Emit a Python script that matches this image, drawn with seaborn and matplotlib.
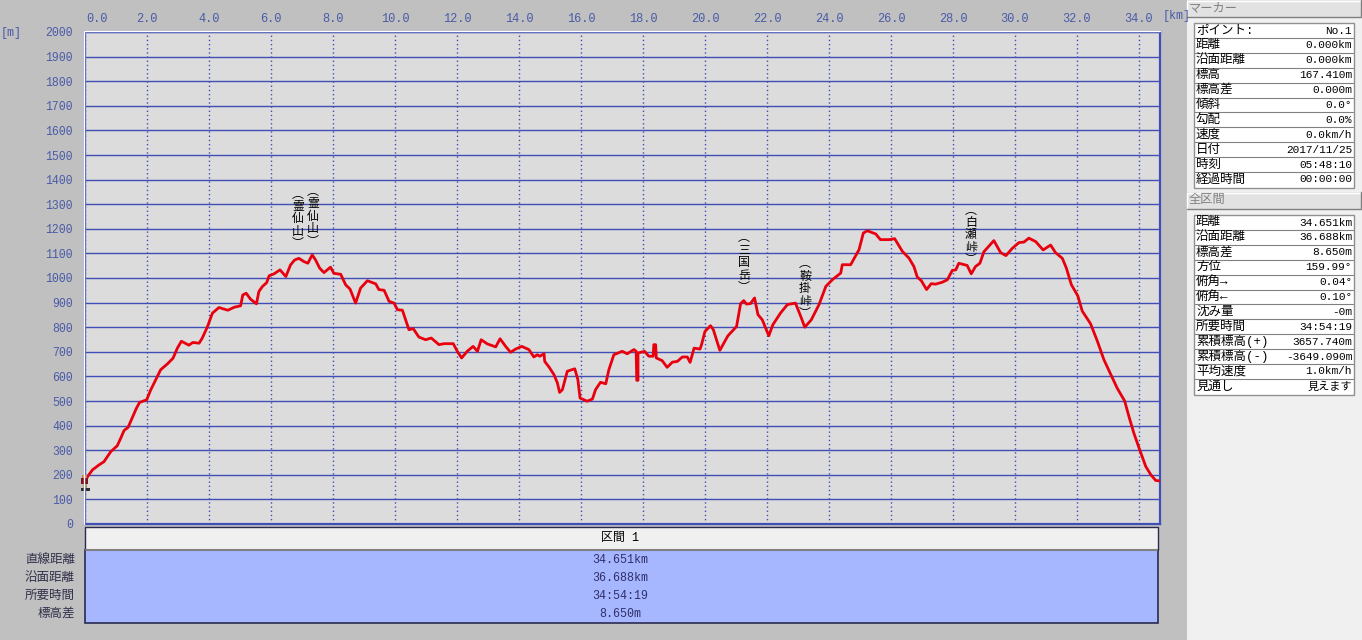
import matplotlib
matplotlib.use("Agg")
import matplotlib.pyplot as plt
from matplotlib.patches import Rectangle
from matplotlib.transforms import ScaledTranslation
import pandas as pd
import seaborn as sns

W, H = 1362, 640

# route profile
dist_km = [0.0, 0.08, 0.24, 0.45, 0.61, 0.83, 1.04, 1.15, 1.26, 1.39, 1.53, 1.66, 1.76, 1.99,
           2.12, 2.28, 2.44, 2.66, 2.84, 2.98, 3.11, 3.35, 3.48, 3.68, 3.78, 3.95, 4.11, 4.32,
           4.61, 4.81, 5.02, 5.09, 5.20, 5.34, 5.53, 5.61, 5.72, 5.86, 5.94, 6.10, 6.29, 6.48,
           6.63, 6.76, 6.90, 7.06, 7.19, 7.33, 7.44, 7.57, 7.71, 7.92, 8.03, 8.25, 8.41, 8.55,
           8.73, 8.89, 9.11, 9.38, 9.48, 9.65, 9.81, 9.97, 10.08, 10.24, 10.34, 10.45, 10.59,
           10.77, 10.99, 11.17, 11.42, 11.58, 11.88, 12.01, 12.15, 12.33, 12.52, 12.66, 12.78,
           12.98, 13.25, 13.39, 13.57, 13.73, 13.89, 14.09, 14.32, 14.48, 14.59, 14.67, 14.81,
           14.83, 14.97, 15.13, 15.24, 15.31, 15.40, 15.56, 15.80, 15.90, 15.97, 16.20, 16.37,
           16.47, 16.63, 16.80, 16.90, 17.06, 17.33, 17.49, 17.71, 17.78, 17.80, 17.84, 17.84,
           18.05, 18.19, 18.33, 18.35, 18.41, 18.43, 18.62, 18.78, 18.95, 19.11, 19.27, 19.43,
           19.52, 19.65, 19.84, 19.89, 20.00, 20.18, 20.27, 20.48, 20.74, 21.02, 21.15, 21.25,
           21.34, 21.47, 21.60, 21.71, 21.85, 22.06, 22.19, 22.44, 22.66, 22.92, 23.09, 23.22,
           23.43, 23.68, 23.90, 24.11, 24.38, 24.43, 24.70, 24.97, 25.11, 25.24, 25.51, 25.66,
           25.95, 26.12, 26.37, 26.58, 26.74, 26.85, 26.98, 27.15, 27.30, 27.44, 27.66, 27.82,
           27.98, 28.09, 28.19, 28.46, 28.59, 28.73, 28.87, 29.00, 29.32, 29.54, 29.71, 29.91,
           30.13, 30.29, 30.45, 30.67, 30.91, 31.15, 31.31, 31.53, 31.66, 31.82, 32.03, 32.17,
           32.44, 32.66, 32.87, 33.06, 33.30, 33.54, 33.68, 33.84, 34.03, 34.22, 34.38, 34.54,
           34.68]
elev_m = [170, 192, 220, 240, 253, 294, 318, 348, 380, 393, 434, 471, 494, 505,
          545, 586, 627, 651, 674, 715, 743, 727, 738, 735, 755, 802, 857, 880,
          869, 881, 887, 931, 938, 914, 895, 945, 965, 981, 1009, 1017, 1033, 1006,
          1053, 1073, 1080, 1067, 1060, 1094, 1073, 1040, 1022, 1044, 1019, 1015, 972, 955,
          898, 959, 989, 976, 953, 950, 905, 898, 871, 869, 831, 790, 794,
          760, 749, 756, 729, 733, 733, 702, 675, 702, 722, 702, 749,
          732, 720, 753, 722, 698, 711, 722, 709, 679, 688, 682, 692,
          661, 638, 607, 573, 535, 546, 621, 631, 587, 512, 499, 508,
          546, 576, 570, 627, 688, 702, 692, 709, 702, 584, 584, 695,
          702, 682, 682, 729, 729, 675, 664, 637, 658, 661, 679, 679,
          657, 715, 711, 729, 783, 806, 790, 706, 765, 803, 896, 908,
          894, 896, 919, 851, 830, 765, 810, 858, 892, 898, 844, 800,
          830, 892, 966, 993, 1020, 1054, 1054, 1115, 1183, 1192, 1179, 1156,
          1156, 1160, 1108, 1081, 1047, 1004, 989, 953, 977, 975, 983, 993,
          1031, 1033, 1060, 1051, 1017, 1047, 1060, 1107, 1152, 1103, 1091, 1120,
          1144, 1146, 1162, 1148, 1114, 1134, 1103, 1080, 1040, 973, 927, 866,
          814, 743, 668, 617, 552, 500, 436, 368, 300, 234, 201, 177,
          175]

x_ticks = [0.0, 2.0, 4.0, 6.0, 8.0, 10.0, 12.0, 14.0, 16.0, 18.0, 20.0, 22.0, 24.0, 26.0,
           28.0, 30.0, 32.0, 34.0]
y_ticks = list(range(0, 2100, 100))

peak_names = ["霊仙山", "霊仙山", "三国岳", "鞍掛峠", "白瀬峠"]
peak_km = [6.87, 7.35, 21.26, 23.23, 28.58]
peak_m = [1240, 1252, 1063, 957, 1175]

section_labels = ["直線距離", "沿面距離", "所要時間", "標高差"]
section_values = ["34.651km", "36.688km", "34:54:19", "8.650m"]

marker_labels = ["ポイント:", "距離", "沿面距離", "標高", "標高差", "傾斜", "勾配", "速度", "日付", "時刻", "経過時間"]
marker_values = ["No.1", "0.000km", "0.000km", "167.410m", "0.000m", "0.0°", "0.0%", "0.0km/h",
                 "2017/11/25", "05:48:10", "00:00:00"]
total_labels = ["距離", "沿面距離", "標高差", "方位", "俯角→", "俯角←", "沈み量", "所要時間",
                "累積標高(+)", "累積標高(-)", "平均速度", "見通し"]
total_values = ["34.651km", "36.688km", "8.650m", "159.99°", "0.04°", "0.10°", "-0m", "34:54:19",
                "3657.740m", "-3649.090m", "1.0km/h", "見えます"]

BLUE = "#3f4fb5"
LABEL_BLUE = "#4a5aa8"
FONT = ["Liberation Mono", "Noto Sans CJK JP", "DejaVu Sans"]
JP = ["Noto Sans CJK JP", "DejaVu Sans"]

sns.set_theme(style="white")
plt.rcParams["font.family"] = FONT

fig = plt.figure(figsize=(W / 100, H / 100), dpi=100, facecolor="#c0c0c0")

# main profile axes
ax = fig.add_axes([85 / W, 1 - 524 / H, (1160 - 85) / W, (524 - 32) / H], facecolor="#dcdcdc")
df = pd.DataFrame({"km": dist_km, "m": elev_m})
sns.lineplot(data=df, x="km", y="m", sort=False, estimator=None, color="#e8000f", linewidth=2.0,
             ax=ax, zorder=5)
ax.set_xlim(0, 34.68)
ax.set_ylim(0, 2000)
ax.set_xticks(x_ticks)
ax.set_yticks(y_ticks)
ax.set_xlabel("")
ax.set_ylabel("")
ax.set_xticklabels([f"{v:.1f}" for v in x_ticks])
ax.xaxis.tick_top()
ax.tick_params(axis="x", length=0, pad=5.4, labelsize=8.6, labelcolor=LABEL_BLUE)
ax.tick_params(axis="y", length=0, pad=8.8, labelsize=8.3, labelcolor=LABEL_BLUE)
ax.grid(axis="y", color=BLUE, linewidth=1.0)
ax.grid(axis="x", color=BLUE, linewidth=1.0, linestyle=(0, (1, 2)))
ax.set_axisbelow(True)
for s in ax.spines.values():
    s.set_color(BLUE)
    s.set_linewidth(1.6)

# first label sits to the right of its gridline in the original
first = ax.get_xticklabels()[0]
first.set_transform(first.get_transform() + ScaledTranslation(12 / 100, 0, fig.dpi_scale_trans))

for name, km, m in zip(peak_names, peak_km, peak_m):
    ax.text(km, m, "︵\n" + "\n".join(name) + "\n︶", family=JP, fontsize=8.6, color="black",
            ha="center", va="center", linespacing=0.95, zorder=6)

# overlay in pixel coords for the window furniture
ov = fig.add_axes([0, 0, 1, 1], facecolor="none", zorder=10)
ov.set_xlim(0, W)
ov.set_ylim(H, 0)
ov.axis("off")


def box(x0, y0, x1, y1, fc, ec="none", lw=0.0):
    ov.add_patch(Rectangle((x0, y0), x1 - x0, y1 - y0, facecolor=fc, edgecolor=ec, linewidth=lw))


def label(x, y, s, ha="left", color="black", size=8.6):
    ov.text(x, y, s, ha=ha, va="center", color=color, fontsize=size, family=FONT)


label(1, 33, "[m]", color=LABEL_BLUE, size=8.4)
label(1163, 16, "[km]", color=LABEL_BLUE, size=8.4)

# white edge of the plot frame
ov.plot([83.5, 83.5, 1160], [524, 30.5, 30.5], color="white", lw=1.0)

# walker icon at start of the track
box(82, 475, 87, 478, "#c08060")
box(81, 478, 88, 484, "#7a1420")
box(83, 484, 87, 488, "#a08a60")
box(81, 488, 84, 491, "#303030")
box(86, 488, 90, 491, "#303030")

# section table below the plot
box(85, 527, 1158, 550, "#f0f0f0", ec="#2a2a50", lw=1.0)
box(85, 550, 1158, 623, "#a6b6ff", ec="#2a2a50", lw=1.2)
ov.plot([86, 1157], [550, 550], color="#808080", lw=1.5)
label(620, 538, "区間 1", ha="center")
for i, (lab, val) in enumerate(zip(section_labels, section_values)):
    y = 560 + i * 18
    label(75, y, lab, ha="right", color="#30304a", size=9)
    label(620, y, val, ha="center", color="#30306a", size=8.4)

# right side panel
box(1187, 0, W, H, "#f0f0f0")


def side_table(title, ytitle, ytop, labels, values):
    box(1187, ytitle, 1362, ytitle + 17, "#e2e2e2")
    ov.plot([1187, 1187, 1361], [ytitle + 16, ytitle + 0.5, ytitle + 0.5], color="white", lw=1.0)
    ov.plot([1187, 1361, 1361], [ytitle + 16.5, ytitle + 16.5, ytitle], color="#808080", lw=1.0)
    label(1189, ytitle + 8.5, title, color="#808080", size=8.8)
    row_h = 14.9
    box(1194, ytop, 1354, ytop + row_h * len(labels) + 1, "white", ec="#909090", lw=1.0)
    for i, (lab, val) in enumerate(zip(labels, values)):
        y = ytop + i * row_h
        if i:
            ov.plot([1195, 1353], [y, y], color="#808080", lw=0.8)
        label(1196, y + 7.5, lab, size=9)
        label(1352, y + 7.5, val, ha="right", size=8.0)


side_table("マーカー", 0, 23, marker_labels, marker_values)
side_table("全区間", 192, 215, total_labels, total_values)

plt.savefig("out.png", dpi=100, facecolor=fig.get_facecolor())
plt.close()
